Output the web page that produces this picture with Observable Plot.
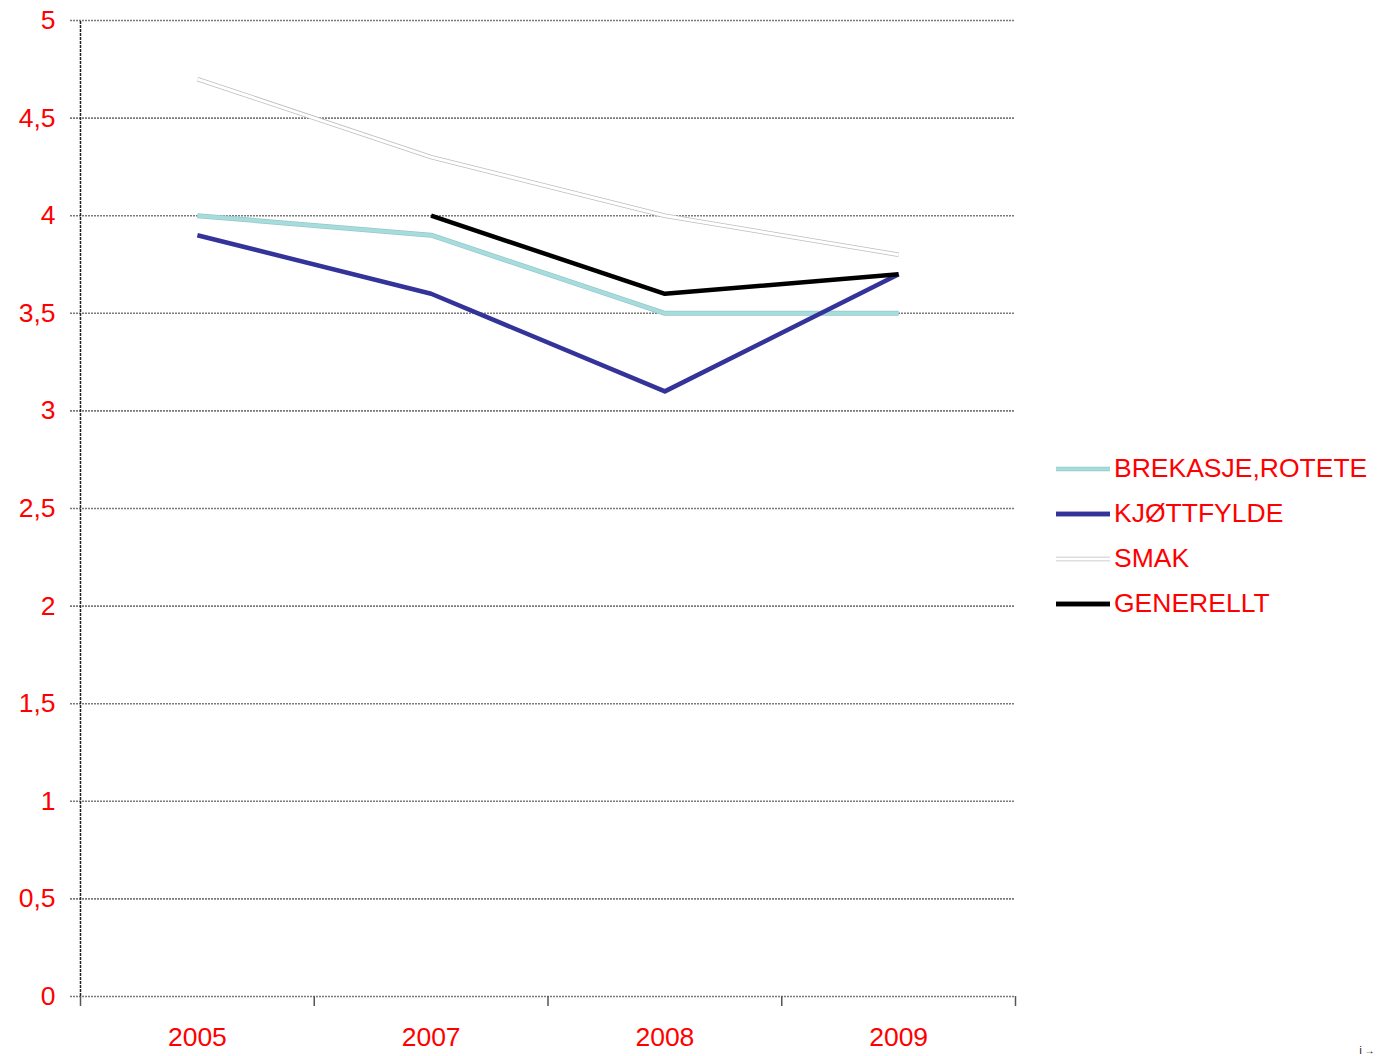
<!DOCTYPE html>
<html><head><meta charset="utf-8">
<script src="https://cdn.jsdelivr.net/npm/d3@7"></script>
<script src="https://cdn.jsdelivr.net/npm/@observablehq/plot@0.6"></script>
<style>
body{margin:0;background:#fff;font-family:"Liberation Sans",Arial,sans-serif;}
#wrap{position:relative;width:1377px;height:1056px;}
#legend{position:absolute;left:1055px;top:446px;}
.item{display:flex;align-items:center;height:45px;}
.item svg{display:block}
.item span{color:#f00;font-size:26.5px;margin-left:3px;line-height:1;}
</style></head>
<body><div id="wrap"><div id="chart"></div><div id="legend"></div></div>
<script>
const years = ["2005","2007","2008","2009"];
const brekasje = [4.0, 3.9, 3.5, 3.5];
const kjottfylde = [3.9, 3.6, 3.1, 3.7];
const smak = [4.7, 4.3, 4.0, 3.8];
const generellt = [null, 4.0, 3.6, 3.7];
const seriesNames = ["BREKASJE,ROTETE","KJØTTFYLDE","SMAK","GENERELLT"];
const yTicks = [0,0.5,1,1.5,2,2.5,3,3.5,4,4.5,5];

const colors = {"BREKASJE,ROTETE":"#a8dcdc","KJØTTFYLDE":"#33339a","SMAK":"#ffffff","GENERELLT":"#000000"};
const allSeries = [brekasje,kjottfylde,smak,generellt];
const rows = [];
allSeries.forEach((vals,si)=>vals.forEach((v,i)=>{ if(v!=null) rows.push({series:seriesNames[si], i, year:years[i], value:v}); }));
const idx = years.map((_,i)=>i);
const bounds = d3.range(-0.5, years.length, 1);
const fmt = d => String(d).replace(".", ",");

const line = (name, extra) => Plot.line(rows.filter(r=>r.series===name), {x:"i", y:"value", strokeLinejoin:"round", strokeLinecap:"butt", ...extra});

const plot = Plot.plot({
  width:1377, height:1056,
  marginLeft:80, marginRight:362, marginTop:20, marginBottom:60,
  style:{fontFamily:"Liberation Sans, Arial, sans-serif", background:"#fff"},
  x:{type:"linear", domain:[-0.5, years.length-0.5], axis:null},
  y:{type:"linear", domain:[0,5], axis:null},
  marks:[
    Plot.ruleY(yTicks, {y:d=>d, x1:-0.5 - 10/233.75, x2:years.length-0.5, stroke:"#7a7a7a", strokeWidth:1.6, strokeDasharray:"2,1"}),
    Plot.text(yTicks, {x:-0.5, y:d=>d, text:fmt, dx:-25, textAnchor:"end", fill:"#ff0000", fontSize:26.5}),
    Plot.ruleX([-0.5], {y1:0, y2:5, stroke:"#222", strokeWidth:1.5, strokeDasharray:"3,1"}),
    Plot.axisX({ticks:bounds, tickFormat:()=>"", tickSize:10, stroke:"#555", strokeWidth:1.5}),
    Plot.text(idx, {x:d=>d, y:0, text:d=>years[d], dy:41, fill:"#ff0000", fontSize:26.5}),
    line("SMAK", {stroke:"#bdbdbd", strokeWidth:4.5}),
    line("SMAK", {stroke:"#ffffff", strokeWidth:3}),
    line("BREKASJE,ROTETE", {stroke:"#93c9c9", strokeWidth:5}),
    line("BREKASJE,ROTETE", {stroke:colors["BREKASJE,ROTETE"], strokeWidth:3.5}),
    line("KJØTTFYLDE", {stroke:colors["KJØTTFYLDE"], strokeWidth:4.5}),
    line("GENERELLT", {stroke:colors["GENERELLT"], strokeWidth:4.5})
  ]
});
document.getElementById("chart").appendChild(plot);

const leg = document.getElementById("legend");
seriesNames.forEach(n=>{
  const d = document.createElement("div"); d.className="item";
  const outline = n==="SMAK" ? "#bdbdbd" : (n==="BREKASJE,ROTETE" ? "#93c9c9" : colors[n]);
  d.innerHTML = `<svg width="56" height="10"><line x1="1" y1="5" x2="55" y2="5" stroke="${outline}" stroke-width="4.5"/><line x1="1" y1="5" x2="55" y2="5" stroke="${colors[n]}" stroke-width="${n==="SMAK"||n==="BREKASJE,ROTETE"?3:4.5}"/></svg><span>${n}</span>`;
  leg.appendChild(d);
});
</script></body></html>
